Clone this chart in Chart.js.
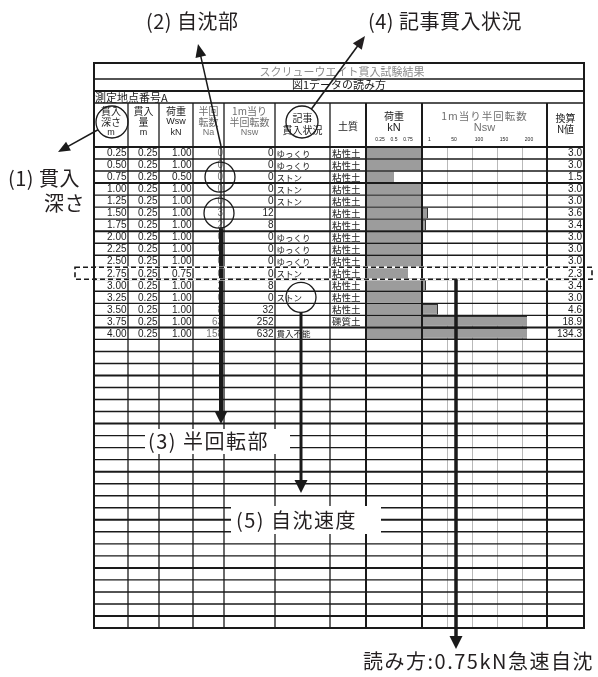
<!DOCTYPE html>
<html>
<head>
<meta charset="utf-8">
<script src="https://cdn.jsdelivr.net/npm/chart.js@4"></script>
<style>
  html, body { margin: 0; padding: 0; background: #fff; }
  canvas { display: block; }
</style>
</head>
<body>
<canvas id="myChart" width="598" height="677"></canvas>
<script>
// Sounding results, one entry per 0.25 m

const depths = ["0.25", "0.50", "0.75", "1.00", "1.25", "1.50", "1.75", "2.00",
  "2.25", "2.50", "2.75", "3.00", "3.25", "3.50", "3.75", "4.00"];
const penetration = ["0.25", "0.25", "0.25", "0.25", "0.25", "0.25", "0.25", "0.25",
  "0.25", "0.25", "0.25", "0.25", "0.25", "0.25", "0.25", "0.25"];
const loads = [1.0, 1.0, 0.5, 1.0, 1.0, 1.0, 1.0, 1.0, 1.0, 1.0, 0.75, 1.0, 1.0, 1.0, 1.0, 1.0];
const halfTurns = [0, 0, 0, 0, 0, 3, 2, 0, 0, 0, 0, 2, 0, 8, 63, 158];
const nsw = [0, 0, 0, 0, 0, 12, 8, 0, 0, 0, 0, 8, 0, 32, 252, 632];
const notes = ["ゆっくり", "ゆっくり", "ストン", "ストン", "ストン", "", "", "ゆっくり",
  "ゆっくり", "ゆっくり", "ストン", "", "ストン", "", "", "貫入不能"];
const soils = ["粘性土", "粘性土", "粘性土", "粘性土", "粘性土", "粘性土", "粘性土", "粘性土",
  "粘性土", "粘性土", "粘性土", "粘性土", "粘性土", "粘性土", "礫質土", ""];
const nValues = ["3.0", "3.0", "1.5", "3.0", "3.0", "3.6", "3.4", "3.0",
  "3.0", "3.0", "2.3", "3.4", "3.0", "4.6", "18.9", "134.3"];

// tick labels in the header
const loadTicks = ["0.25", "0.5", "0.75"];
const nswTicks = ["1", "50", "100", "150", "200"];
const nswGrid = [50, 100, 150, 200];

const totalRows = 40;
const rowLabels = Array.from({ length: totalRows }, (_, i) => depths[i] || "");
const loadData = Array.from({ length: totalRows }, (_, i) => (i < loads.length ? loads[i] : null));
const nswData = Array.from({ length: totalRows }, (_, i) => (i < nsw.length ? nsw[i] : null));

// layout of the sheet
const colX = [94, 128, 159, 193, 224, 275, 330, 366, 422, 547, 584];
const boxTop = 63;
const titleLineY = 79;
const subLineY = 91;
const headTop = 103;
const headBottom = 147;
const tableBottom = 628;
const canvasW = 598;
const canvasH = 677;

// load column is 0..1 kN, Nsw column is 0..250 at the same pixel rate
const loadMax = (colX[9] - colX[7]) / (colX[8] - colX[7]);
const nswPerPx = 2;
const nswMin = -(colX[8] - colX[7]) * nswPerPx;
const nswMax = (colX[9] - colX[8]) * nswPerPx;

const JP = '"Noto Sans CJK JP", "Noto Sans CJK SC", sans-serif';
const NUM = '"Liberation Sans", Arial, sans-serif';

//helpers
function text(ctx, s, x, y, font, align, color, spacing) {
  ctx.font = font;
  ctx.textAlign = align || "left";
  ctx.textBaseline = "middle";
  ctx.fillStyle = color || "#1c1c1c";
  ctx.letterSpacing = spacing || "0px";
  ctx.fillText(s, x, y);
  ctx.letterSpacing = "0px";
}

function line(ctx, x1, y1, x2, y2) {
  ctx.beginPath();
  ctx.moveTo(x1, y1);
  ctx.lineTo(x2, y2);
  ctx.stroke();
}

function circle(ctx, x, y, r) {
  ctx.beginPath();
  ctx.arc(x, y, r, 0, Math.PI * 2);
  ctx.stroke();
}

// polyline ending in a filled arrow head
function arrow(ctx, pts, lw, len, half) {
  const n = pts.length;
  const [fx, fy] = pts[n - 2];
  const [tx, ty] = pts[n - 1];
  const a = Math.atan2(ty - fy, tx - fx);
  ctx.lineWidth = lw;
  ctx.beginPath();
  ctx.moveTo(pts[0][0], pts[0][1]);
  for (let i = 1; i < n - 1; i++) ctx.lineTo(pts[i][0], pts[i][1]);
  ctx.lineTo(tx - len * 0.7 * Math.cos(a), ty - len * 0.7 * Math.sin(a));
  ctx.stroke();
  ctx.beginPath();
  ctx.moveTo(tx, ty);
  ctx.lineTo(tx - len * Math.cos(a) + half * Math.sin(a), ty - len * Math.sin(a) - half * Math.cos(a));
  ctx.lineTo(tx - len * Math.cos(a) - half * Math.sin(a), ty - len * Math.sin(a) + half * Math.cos(a));
  ctx.closePath();
  ctx.fill();
}

function edgePoint(cx, cy, r, tx, ty) {
  const a = Math.atan2(ty - cy, tx - cx);
  return [cx + r * Math.cos(a), cy + r * Math.sin(a)];
}

//table drawing
const sheetPlugin = {
  id: "sheet",
  beforeDraw(chart) {
    const ctx = chart.ctx;
    ctx.save();
    ctx.fillStyle = "#fff";
    ctx.fillRect(0, 0, chart.width, chart.height);
    ctx.restore();
  },
  beforeDatasetsDraw(chart) {
    const { ctx, chartArea, scales } = chart;
    ctx.save();
    ctx.strokeStyle = "#b9b9b9";
    ctx.lineWidth = 1;
    nswGrid.forEach((v) => {
      const x = Math.round(scales.xNsw.getPixelForValue(v)) + 0.5;
      line(ctx, x, chartArea.top, x, chartArea.bottom);
    });
    ctx.restore();
  },
  afterDatasetsDraw(chart) {
    const { ctx, chartArea, scales } = chart;
    const y = scales.y;
    const band = y.getPixelForValue(1) - y.getPixelForValue(0);
    const rowTop = (i) => y.getPixelForValue(i) - band / 2;
    const rowMid = (i) => y.getPixelForValue(i);

    ctx.save();
    ctx.strokeStyle = "#1a1a1a";

    // row lines
    for (let i = 1; i < totalRows; i++) {
      ctx.lineWidth = i % 4 === 3 ? 2 : 1.4;
      line(ctx, colX[0], rowTop(i), colX[10], rowTop(i));
    }
    ctx.lineWidth = 2;
    line(ctx, colX[0], chartArea.top, colX[10], chartArea.top);

    // title rows
    ctx.lineWidth = 1.5;
    line(ctx, colX[0], titleLineY, colX[10], titleLineY);
    ctx.lineWidth = 2;
    line(ctx, colX[0], subLineY, colX[10], subLineY);
    ctx.lineWidth = 1.5;
    line(ctx, colX[0], headTop, colX[10], headTop);

    // column lines
    for (let c = 1; c < colX.length - 1; c++) {
      ctx.lineWidth = c >= 7 ? 2 : 1.3;
      line(ctx, colX[c], headTop, colX[c], tableBottom);
    }

    // outer box
    ctx.lineWidth = 2;
    ctx.strokeRect(colX[0], boxTop, colX[10] - colX[0], tableBottom - boxTop);

    // title texts
    const mid = (colX[0] + colX[10]) / 2;
    text(ctx, "スクリューウエイト貫入試験結果", mid + 3, 71.5, `11px ${JP}`, "center", "#8c8c8c");
    text(ctx, "図1データの読み方", mid, 85, `11px ${JP}`, "center");
    text(ctx, "測定地点番号A", colX[0] + 1, 97.5, `11px ${JP}`, "left");

    // header
    const cx = (c) => (colX[c] + colX[c + 1]) / 2;
    const hf = `10px ${JP}`;
    const grey = "#707070";
    text(ctx, "貫入", cx(0), 111, hf, "center");
    text(ctx, "深さ", cx(0), 122, hf, "center");
    text(ctx, "m", cx(0), 133, `9px ${NUM}`, "center");
    text(ctx, "貫入", cx(1), 111, hf, "center");
    text(ctx, "量", cx(1), 122, hf, "center");
    text(ctx, "m", cx(1), 133, `9px ${NUM}`, "center");
    text(ctx, "荷重", cx(2), 111, hf, "center");
    text(ctx, "Wsw", cx(2), 122, `9px ${NUM}`, "center");
    text(ctx, "kN", cx(2), 133, `9px ${NUM}`, "center");
    text(ctx, "半回", cx(3), 111, hf, "center", grey);
    text(ctx, "転数", cx(3), 122, hf, "center", grey);
    text(ctx, "Na", cx(3), 133, `9px ${NUM}`, "center", grey);
    text(ctx, "1m当り", cx(4), 111, hf, "center", grey);
    text(ctx, "半回転数", cx(4), 122, hf, "center", grey);
    text(ctx, "Nsw", cx(4), 133, `9px ${NUM}`, "center", grey);
    text(ctx, "記事", cx(5), 118, hf, "center");
    text(ctx, "貫入状況", cx(5), 130, hf, "center");
    text(ctx, "土質", cx(6), 126, hf, "center");
    text(ctx, "荷重", cx(7), 116, hf, "center");
    text(ctx, "kN", cx(7), 128, `11px ${NUM}`, "center");
    text(ctx, "1m当り半回転数", cx(8), 116, `10.5px ${JP}`, "center", grey, "1px");
    text(ctx, "Nsw", cx(8), 128, `11px ${NUM}`, "center", grey);
    text(ctx, "換算", cx(9), 118, hf, "center");
    text(ctx, "N値", cx(9), 129, hf, "center");

    // header ticks
    loadTicks.forEach((t) => {
      text(ctx, t, scales.xLoad.getPixelForValue(parseFloat(t)), 140, `5px ${NUM}`, "center");
    });
    nswTicks.forEach((t) => {
      text(ctx, t, scales.xNsw.getPixelForValue(parseFloat(t)) + 7, 140, `5px ${NUM}`, "center");
    });

    // data rows
    const nf = `10px ${NUM}`;
    depths.forEach((d, i) => {
      const ym = rowMid(i) + 0.5;
      text(ctx, d, colX[1] - 1.5, ym, nf, "right");
      text(ctx, penetration[i], colX[2] - 1.5, ym, nf, "right");
      text(ctx, loads[i].toFixed(2), colX[3] - 1.5, ym, nf, "right");
      text(ctx, String(halfTurns[i]), colX[4] - 1, ym, nf, "right", "#777");
      text(ctx, String(nsw[i]), colX[5] - 1.5, ym, nf, "right");
      if (notes[i]) text(ctx, notes[i], colX[5] + 1.5, ym, `8.5px ${JP}`, "left");
      if (soils[i]) text(ctx, soils[i], colX[6] + 2, ym, `9.5px ${JP}`, "left");
      text(ctx, nValues[i], colX[10] - 2, ym, nf, "right");
    });

    //annotations
    const ink = "#231f20";
    ctx.strokeStyle = "#1a1a1a";
    ctx.fillStyle = "#1a1a1a";
    ctx.lineWidth = 1.3;

    // (1) depth
    const c1 = [112, 122, 16];
    circle(ctx, c1[0], c1[1], c1[2]);
    arrow(ctx, [edgePoint(c1[0], c1[1], c1[2], 58, 152), [58, 152]], 1.5, 12, 5);
    text(ctx, "(1) 貫入", 8, 178, `20px ${JP}`, "left", ink, "0.5px");
    text(ctx, "深さ", 44, 203, `20px ${JP}`, "left", ink, "0.5px");

    // (4) notes
    const c4 = [302, 122, 16];
    ctx.lineWidth = 1.3;
    circle(ctx, c4[0], c4[1], c4[2]);
    arrow(ctx, [edgePoint(c4[0], c4[1], c4[2], 365, 36), [365, 36]], 1.6, 13, 5.5);
    text(ctx, "(4) 記事貫入状況", 368, 21, `20px ${JP}`, "left", ink, "0.5px");

    // (2) self-sinking, circles on the half-turn column
    const xa = 221;
    ctx.fillStyle = "#1a1a1a";
    ctx.lineWidth = 1.3;
    circle(ctx, xa - 1, rowMid(2), 15);
    circle(ctx, xa - 2, rowMid(5), 15);
    ctx.beginPath();
    ctx.moveTo(xa, rowMid(5) + 15);
    ctx.lineTo(xa, 146);
    ctx.stroke();
    arrow(ctx, [[xa, 146], [198, 44]], 1.5, 13, 5.5);
    text(ctx, "(2) 自沈部", 146, 21, `20px ${JP}`, "left", ink, "0.5px");

    // (3) half turn part
    ctx.fillStyle = "#1a1a1a";
    arrow(ctx, [[xa, rowMid(5) + 15], [xa, 424]], 4, 13, 6.5);
    ctx.fillStyle = "#fff";
    ctx.fillRect(145, 429, 145, 25);
    text(ctx, "(3) 半回転部", 148, 441.5, `20px ${JP}`, "left", ink, "1.5px");

    // (5) sinking speed
    ctx.fillStyle = "#1a1a1a";
    ctx.lineWidth = 1.3;
    circle(ctx, 301, rowMid(12), 15);
    arrow(ctx, [[301, rowMid(12) + 15], [301, 493]], 3, 13, 6.5);
    ctx.fillStyle = "#fff";
    ctx.fillRect(231, 506, 150, 28);
    text(ctx, "(5) 自沈速度", 236, 520, `20px ${JP}`, "left", ink, "1.5px");

    // dashed frame round the 2.75 m row
    const fTop = rowTop(10);
    const fBot = rowTop(11);
    ctx.strokeStyle = "#fff";
    ctx.lineWidth = 2.2;
    line(ctx, colX[0] + 2, fTop, colX[10] - 2, fTop);
    line(ctx, colX[0] + 2, fBot, colX[10] - 2, fBot);
    ctx.strokeStyle = "#1a1a1a";
    ctx.lineWidth = 1.6;
    ctx.setLineDash([5, 3]);
    ctx.strokeRect(75, fTop, 592 - 75, fBot - fTop);
    ctx.setLineDash([]);

    // reading of the 2.75 m row
    ctx.fillStyle = "#1a1a1a";
    arrow(ctx, [[456, fBot], [456, 649]], 3.5, 13, 6.5);
    text(ctx, "読み方:0.75kN急速自沈", 363, 661, `20px ${JP}`, "left", ink, "1.5px");

    ctx.restore();
  },
};

//chart
new Chart("myChart", {
  type: "bar",
  data: {
    labels: rowLabels,
    datasets: [
      {
        label: "荷重 kN",
        data: loadData,
        xAxisID: "xLoad",
        backgroundColor: "#9c9c9c",
        borderWidth: 0,
      },
      {
        label: "Nsw",
        data: nswData,
        xAxisID: "xNsw",
        backgroundColor: "#9c9c9c",
        borderColor: "#333",
        borderWidth: 1,
        clip: { left: 0, top: 0, right: -20, bottom: 0 },
      },
    ],
  },
  options: {
    indexAxis: "y",
    responsive: false,
    animation: false,
    events: [],
    layout: {
      padding: {
        left: colX[7],
        right: canvasW - colX[9],
        top: headBottom,
        bottom: canvasH - tableBottom,
      },
    },
    datasets: {
      bar: { grouped: false, barPercentage: 1, categoryPercentage: 0.88 },
    },
    scales: {
      y: { type: "category", display: false },
      xLoad: { type: "linear", axis: "x", display: false, min: 0, max: loadMax },
      xNsw: { type: "linear", axis: "x", display: false, min: nswMin, max: nswMax },
    },
    plugins: {
      legend: { display: false },
      tooltip: { enabled: false },
      title: { display: false },
    },
  },
  plugins: [sheetPlugin],
});
</script>
</body>
</html>
